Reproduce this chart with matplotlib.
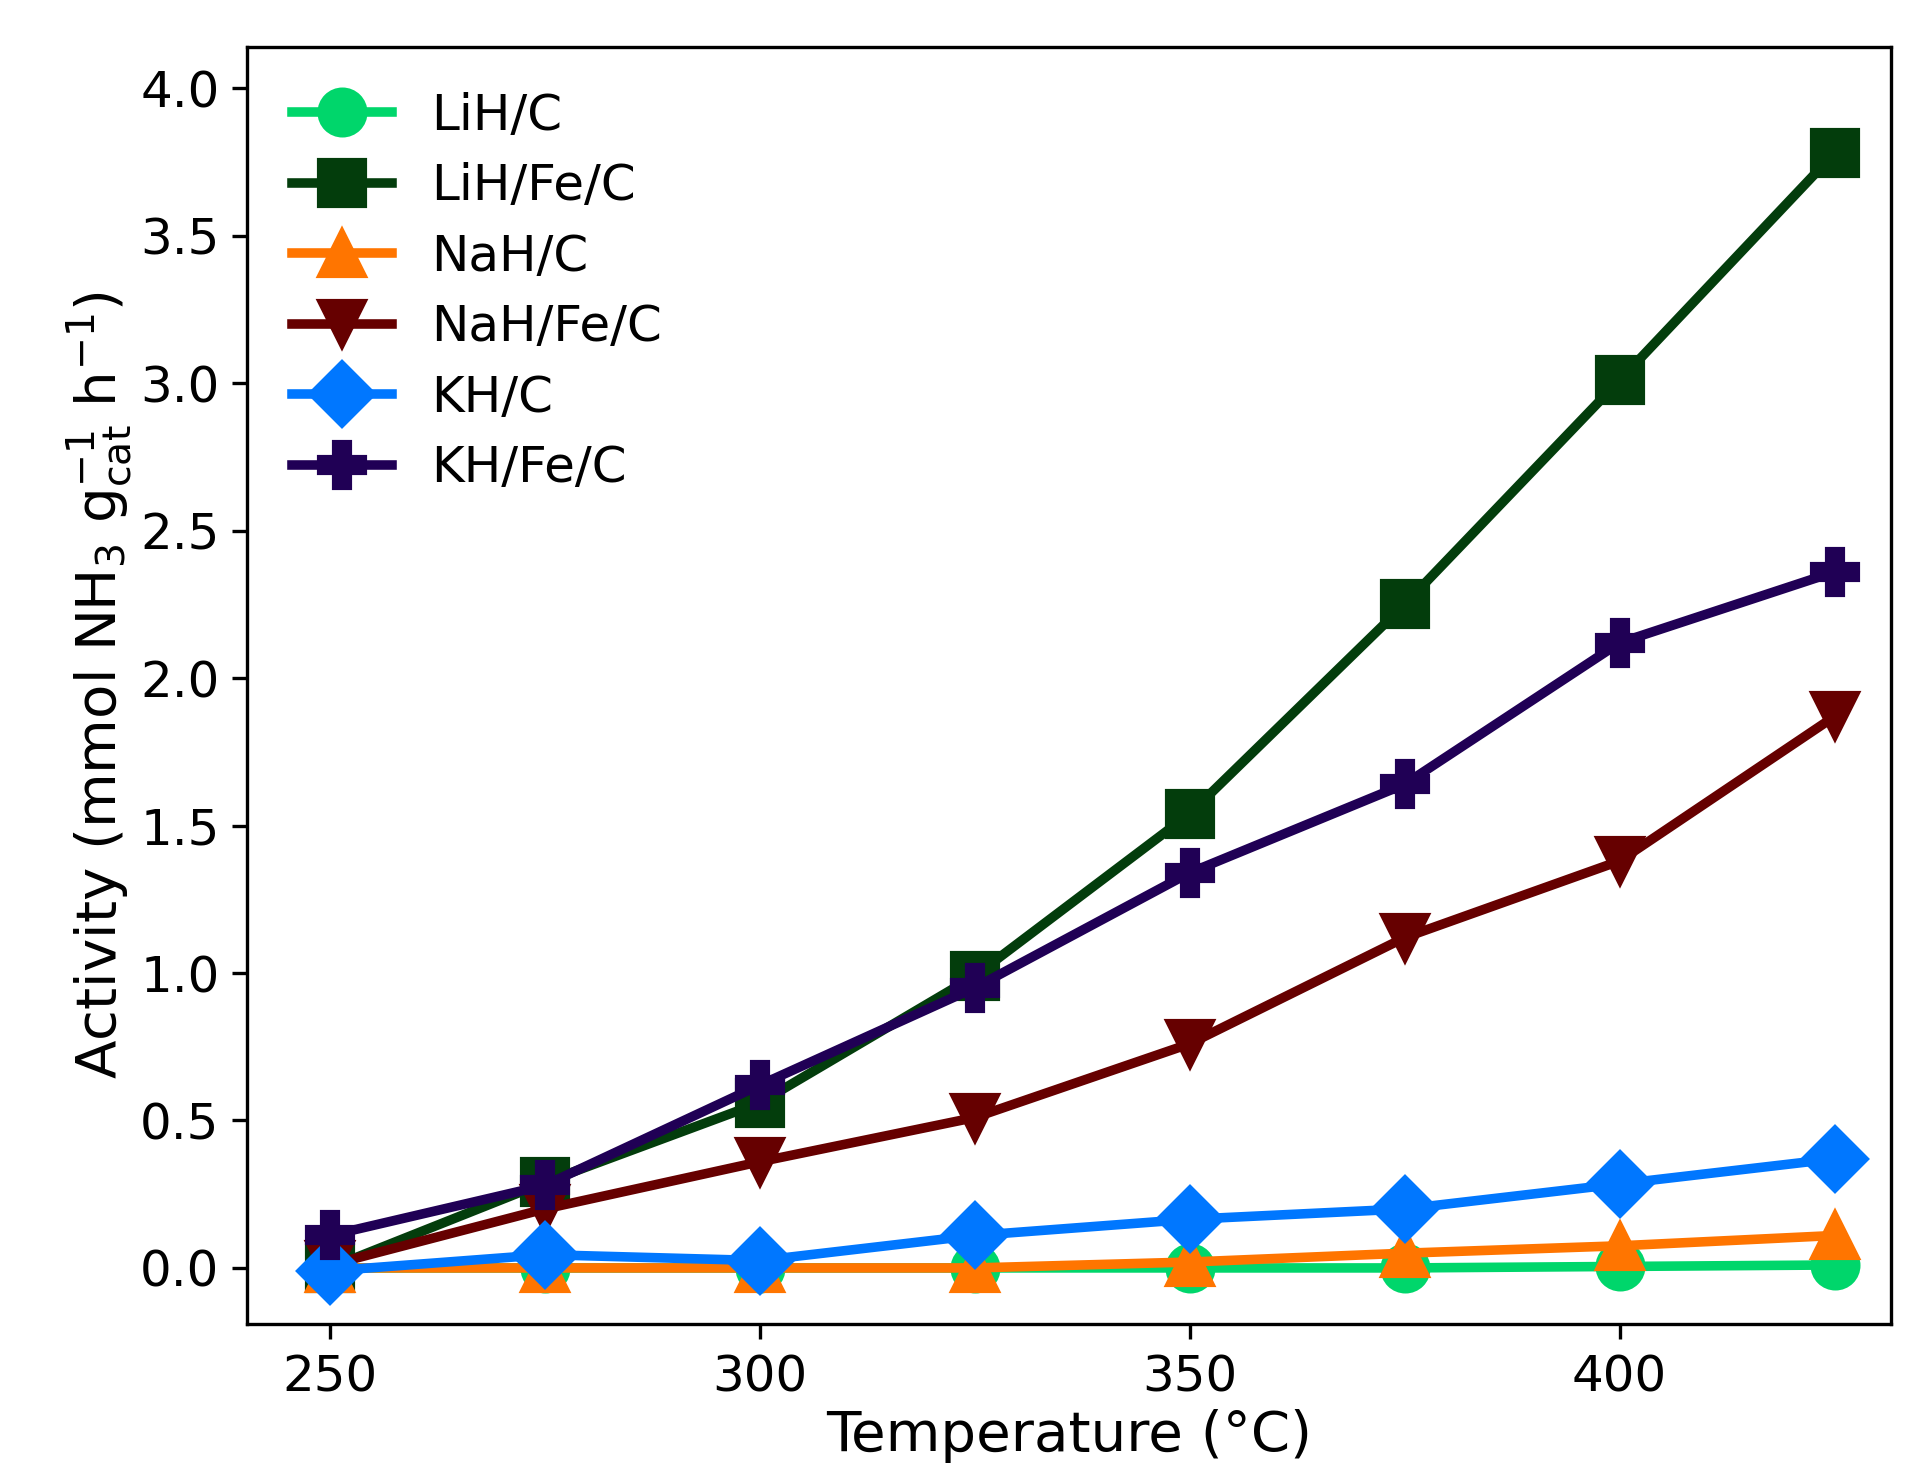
import numpy as np
import matplotlib.pyplot as plt

temps = [250, 275, 300, 325, 350, 375, 400, 425]

lih_c = [0.0, 0.0, 0.0, 0.0, 0.0, 0.0, 0.005, 0.01]
lih_fe_c = [0.0, 0.29, 0.56, 0.99, 1.54, 2.25, 3.01, 3.78]
nah_c = [0.0, 0.0, 0.0, 0.0, 0.02, 0.05, 0.075, 0.11]
nah_fe_c = [0.01, 0.2, 0.36, 0.51, 0.76, 1.12, 1.38, 1.87]
kh_c = [-0.01, 0.045, 0.025, 0.11, 0.165, 0.2, 0.285, 0.37]
kh_fe_c = [0.11, 0.28, 0.62, 0.95, 1.34, 1.64, 2.12, 2.36]

series = [
    ('LiH/C', lih_c, '#00d66b', 'o'),
    ('LiH/Fe/C', lih_fe_c, '#033d0c', 's'),
    ('NaH/C', nah_c, '#ff7500', '^'),
    ('NaH/Fe/C', nah_fe_c, '#660000', 'v'),
    ('KH/C', kh_c, '#0077ff', 'D'),
    ('KH/Fe/C', kh_fe_c, '#200055', 'P'),
]

fig = plt.figure(figsize=(6.42, 4.89), dpi=300)
ax = fig.add_axes([0.128, 0.0975, 0.854, 0.8705])

for name, vals, col, mk in series:
    ax.plot(temps, vals, color=col, marker=mk, markersize=11, linewidth=2.3, label=name)

ax.set_xlim(240.3, 431.6)
ax.set_ylim(-0.19, 4.14)
ax.set_xticks([250, 300, 350, 400])
ax.set_yticks(np.arange(0, 4.01, 0.5))
ax.tick_params(labelsize=12)
ax.tick_params(axis='y', pad=3)
ax.set_xlabel('Temperature (°C)', fontsize=13.5, labelpad=2)
ax.set_ylabel('Activity (mmol NH$_3$ g$_{\\mathrm{cat}}^{-1}$ h$^{-1}$)', fontsize=13.5, labelpad=1.5)
ax.legend(frameon=False, fontsize=12, loc='upper left', labelspacing=0.45)

fig.savefig('out.png', dpi=300)
